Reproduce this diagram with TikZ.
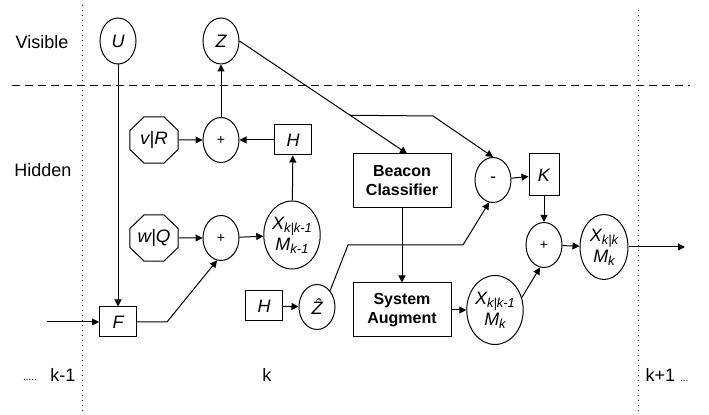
\documentclass[tikz,border=0pt]{standalone}
\usepackage{fontspec}
\setmainfont{Liberation Sans}
\usepackage{tikz}
\usetikzlibrary{shapes.geometric, arrows.meta, calc}
\newcommand{\idx}[1]{\raisebox{-0.35ex}{\fontsize{6.5}{7}\selectfont #1}}
\tikzset{
  varnode/.style={
    ellipse, draw, inner sep=0pt, minimum width=18pt, minimum height=23pt,
    font=\fontsize{9}{10}\selectfont\itshape
  },
  sumnode/.style={
    ellipse, draw, inner sep=0pt, minimum width=18pt, minimum height=22.5pt,
    font=\fontsize{7}{8}\selectfont
  },
  statenode/.style={
    ellipse, draw, inner sep=0pt, align=center,
    font=\fontsize{9}{10.5}\selectfont\itshape
  },
  noisenode/.style={
    regular polygon, regular polygon sides=8, xscale=1.04,
    draw, inner sep=0pt, minimum size=25pt, font=\fontsize{9}{10}\selectfont\itshape
  },
  opbox/.style={
    rectangle, draw, inner sep=0pt, minimum width=18.5pt, minimum height=15pt,
    font=\fontsize{9}{10}\selectfont\itshape
  },
  procbox/.style={
    rectangle, draw, inner sep=0pt, minimum width=49pt, minimum height=27pt,
    align=center, font=\fontsize{8}{9.5}\selectfont\bfseries
  },
  plainlabel/.style={
    font=\fontsize{9}{10}\selectfont
  },
  flowarrow/.style={
    -{Triangle[length=3.5pt,width=3.5pt]}
  }
}

\begin{document}
\begin{tikzpicture}[x=0.5pt, y=-0.5pt, line width=0.5pt]
  \useasboundingbox (0,0) rectangle (709,415);

  % time slices and layers
  \draw[dotted] (82,5) -- (82,412);
  \draw[dotted] (638,10) -- (638,412);
  \draw[dash pattern=on 4pt off 2.5pt] (12,86) -- (690,86);

  \node[plainlabel] (visible) at (42,42) {Visible};
  \node[plainlabel] (hidden) at (43,170) {Hidden};
  \node[plainlabel, anchor=base] (prevdots) at (30,381) {\fontsize{5}{6}\selectfont .....};
  \node[plainlabel] (prevk) at (63,375) {k-1};
  \node[plainlabel] (curk) at (267,375) {k};
  \node[plainlabel] (nextk) at (667,375) {k+1 \fontsize{5}{6}\selectfont ...};

  % nodes
  \node[varnode] (U) at (118,41) {U};
  \node[varnode] (Z) at (221,41) {Z};
  \node[noisenode] (vR) at (154,140) {v|R};
  \node[sumnode] (sumZ) at (221,140) {+};
  \node[opbox] (Hup) at (293,140) {H};
  \node[noisenode] (wQ) at (154,238) {w|Q};
  \node[sumnode] (sumX) at (221,238) {+};
  \node[statenode, minimum width=26.5pt, minimum height=34pt] (Xprior) at (292,235)
    {X\idx{k|k-1}\\M\idx{k-1}};
  \node[opbox] (F) at (118,322) {F};
  \node[opbox] (Hlow) at (264,306) {H};
  \node[sumnode, font=\fontsize{9}{10}\selectfont\itshape] (Zhat) at (317,307) {\^{Z}};
  \node[procbox] (beacon) at (402,181) {Beacon\\Classifier};
  \node[procbox] (augment) at (402,310) {System\\Augment};
  \node[sumnode, font=\fontsize{9}{10}\selectfont] (minus) at (493,180) {-};
  \node[opbox, minimum width=15pt, minimum height=21pt] (K) at (544,175) {K};
  \node[statenode, minimum width=27.5pt, minimum height=34.5pt] (Xaug) at (495,310)
    {X\idx{k|k-1}\\M\idx{k}};
  \node[sumnode] (sumK) at (544,245) {+};
  \node[statenode, minimum width=24pt, minimum height=32.5pt] (Xpost) at (604,247)
    {X\idx{k|k}\\M\idx{k}};

  \coordinate (in) at (47,322);
  \coordinate (out) at (685,247);
  \coordinate (fbend) at (167,322);
  \coordinate (zbend) at (433,116);
  \coordinate (hbendA) at (348,245);
  \coordinate (hbendB) at (463,245);

  % connectors
  \draw[flowarrow] (in) -- (F);
  \draw[flowarrow] (U) -- (F);
  \draw[flowarrow] (F.east) -- (fbend) -- (sumX.-100);
  \draw[flowarrow] (wQ) -- (sumX);
  \draw[flowarrow] (sumX) -- (Xprior);
  \draw[flowarrow] (Xprior) -- (Hup);
  \draw[flowarrow] (Hup) -- (sumZ);
  \draw[flowarrow] (vR) -- (sumZ);
  \draw[flowarrow] (sumZ) -- (Z);
  \draw[flowarrow] (Z.east) -- coordinate[pos=0.66] (split) ([xshift=2.5pt]beacon.north);
  \draw[flowarrow] (split) -- (zbend) -- (minus.north);
  \draw[flowarrow] (Hlow) -- (Zhat);
  \draw[flowarrow] (Zhat.north east) -- (hbendA) -- (hbendB) -- (minus.-100);
  \draw[flowarrow] (minus) -- (K);
  \draw[flowarrow] (K) -- (sumK);
  \draw[flowarrow] (beacon) -- (augment);
  \draw[flowarrow] (augment) -- (Xaug);
  \draw[flowarrow] (Xaug.25) -- (sumK.-100);
  \draw[flowarrow] (sumK) -- (Xpost);
  \draw[flowarrow] (Xpost) -- (out);
\end{tikzpicture}
\end{document}
